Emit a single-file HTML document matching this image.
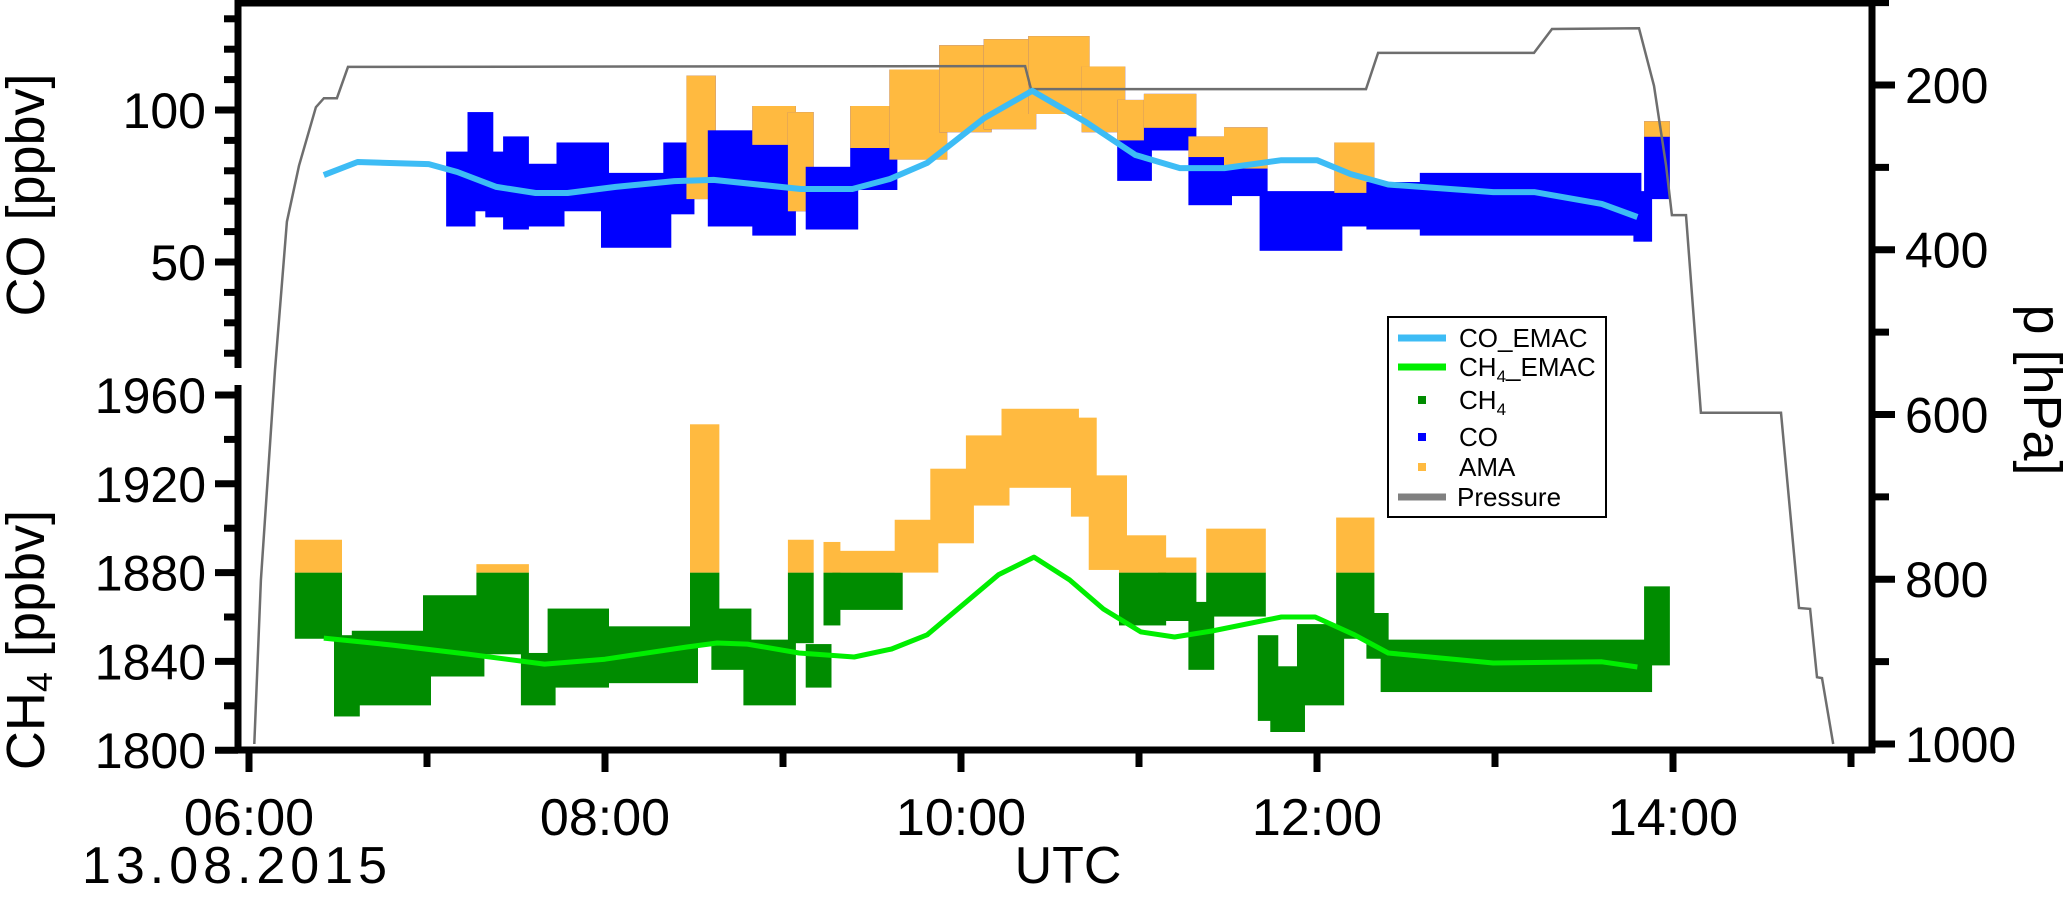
<!DOCTYPE html>
<html><head><meta charset="utf-8"><title>CO and CH4 time series</title>
<style>
html,body{margin:0;padding:0;background:#fff;}
svg{display:block;font-family:"Liberation Sans",Arial,sans-serif;}
</style></head>
<body>
<svg id="chart" xmlns="http://www.w3.org/2000/svg" width="2067" height="899" viewBox="0 0 2067 899">
<g id="scatter"></g>
<g id="lines"></g>
<g id="axes"></g>
<g id="legend">
  <rect x="1388" y="317" width="218" height="200" fill="#fff" stroke="#000" stroke-width="2"/>
  <line x1="1398" y1="338" x2="1446" y2="338" stroke="#3dbcf5" stroke-width="7"/>
  <text x="1459" y="347" font-size="26">CO_EMAC</text>
  <line x1="1398" y1="367" x2="1446" y2="367" stroke="#00ee00" stroke-width="7"/>
  <text x="1459" y="376" font-size="26">CH<tspan font-size="17" dy="6">4</tspan><tspan dy="-6">_EMAC</tspan></text>
  <rect x="1418" y="396" width="8" height="8" fill="#008c00"/>
  <text x="1459" y="409" font-size="26">CH<tspan font-size="17" dy="6">4</tspan></text>
  <rect x="1418" y="433" width="8" height="8" fill="#0000ff"/>
  <text x="1459" y="446" font-size="26">CO</text>
  <rect x="1418" y="463" width="8" height="8" fill="#ffba40"/>
  <text x="1459" y="476" font-size="26">AMA</text>
  <line x1="1398" y1="497" x2="1446" y2="497" stroke="#808080" stroke-width="7"/>
  <text x="1457" y="506" font-size="26">Pressure</text>
</g>
</svg>
<script>
// ---- data ----
const ch4T0 = [6.28,6.50,6.60,7.00,7.30,7.55,7.70,8.00,8.50,8.62,8.80,9.05,9.15,9.25,9.30,9.65,9.85,10.05,10.25,10.64,10.74,10.91,11.13,11.30,11.40,11.69,11.76,11.91,12.13,12.30,12.38,13.86];
const ch4T1 = [6.50,6.60,7.00,7.30,7.55,7.70,8.00,8.50,8.62,8.80,9.05,9.15,9.25,9.30,9.65,9.85,10.05,10.25,10.64,10.74,10.91,11.13,11.30,11.40,11.69,11.76,11.91,12.13,12.30,12.38,13.86,13.96];
const ch4Lo = [1852,1817,1822,1835,1845,1822,1830,1832,1850,1838,1822,1850,1830,1858,1865,1880,1895,1912,1920,1907,1883,1858,1860,1838,1862,1815,1810,1822,1852,1843,1828,1840];
const ch4Hi = [1893,1850,1852,1868,1882,1842,1862,1854,1945,1862,1848,1893,1846,1892,1888,1902,1925,1940,1952,1948,1922,1895,1885,1865,1898,1850,1836,1855,1903,1860,1848,1872];

const coT0 = [7.13,7.25,7.35,7.45,7.55,7.75,8.00,8.35,8.48,8.60,8.85,9.05,9.15,9.40,9.62,9.90,10.15,10.40,10.70,10.90,11.05,11.30,11.50,11.70,12.12,12.30,12.60,13.80,13.86];
const coT1 = [7.25,7.35,7.45,7.55,7.75,8.00,8.35,8.48,8.60,8.85,9.05,9.15,9.40,9.62,9.90,10.15,10.40,10.70,10.90,11.05,11.30,11.50,11.70,12.12,12.30,12.60,13.80,13.86,13.96];
const coLo = [63,68,66,62,63,68,56,67,72,63,60,68,62,75,85,94,95,100,94,78,88,70,73,55,63,62,60,58,72];
const coHi = [85,98,85,90,81,88,78,88,110,92,100,98,80,100,112,120,122,123,113,102,104,90,93,72,88,75,78,72,95];
const coAmaFrac = [0,0,0,0,0,0,0,0,1,0,0.3,1,0,0.5,1,1,1,1,1,0.5,0.6,0.3,0.6,0,0.6,0,0,0,0.2];

const coEmacT = [6.42,6.61,7.01,7.17,7.39,7.61,7.79,8.06,8.39,8.61,9.10,9.39,9.60,9.81,10.13,10.40,10.70,10.98,11.23,11.48,11.80,12.00,12.19,12.40,12.99,13.22,13.60,13.80];
const coEmacV = [78.6,82.9,82.2,79.6,74.7,72.7,72.7,74.7,76.6,77.0,74.0,74.0,77.3,82.6,97.3,106.3,96.1,85.2,80.9,80.9,83.5,83.5,78.9,75.5,73.0,73.0,69.1,64.8];

const ch4EmacT = [6.42,6.80,7.23,7.66,8.00,8.46,8.63,8.80,9.09,9.40,9.61,9.81,10.21,10.41,10.61,10.80,11.01,11.20,11.41,11.80,11.99,12.21,12.40,12.99,13.60,13.80];
const ch4EmacV = [1850.5,1847.4,1843.3,1838.8,1841,1846.5,1848.3,1847.8,1843.8,1842,1845.6,1852,1879,1887,1876.7,1863.6,1853.3,1851,1853.7,1860,1860,1852,1843.8,1839.3,1839.8,1837.5];

const presT = [6.03,6.067,6.146,6.213,6.281,6.376,6.421,6.494,6.556,10.36,10.393,12.275,12.343,13.219,13.32,13.809,13.893,13.961,13.994,14.073,14.157,14.607,14.708,14.77,14.809,14.837,14.90];
const presV = [1000,801,546,366,298,227,216,216,178,177,205,205,161,161,132,131,201,298,358,358,598,598,835,836,919,920,1000];

const xTickHours = [6,7,8,9,10,11,12,13,14,15];
const xTickLabels = ["06:00","","08:00","","10:00","","12:00","","14:00",""];
const coTicks = [130,120,110,100,90,80,70,60,50,40,30,20];
const coTickLabels = ["100","50"];
const ch4Ticks = [1960,1940,1920,1900,1880,1860,1840,1820,1800];
const ch4TickLabels = ["1960","1920","1880","1840","1800"];
const pTicks = [100,200,300,400,500,600,700,800,900,1000];
const pTickLabels = ["200","400","600","800","1000"];

// ---- scales ----
const X = t => 249 + 178*(t-6);
const Yco = v => 110 - (v-100)*3.04;
const Ych = v => 395 - (v-1960)*2.22;
const Yp = p => 85 + (p-200)*0.8237;
const NS = "http://www.w3.org/2000/svg";
function mk(tag, attrs, parent){const e=document.createElementNS(NS,tag);for(const k in attrs)e.setAttribute(k,attrs[k]);parent.appendChild(e);return e;}
const sc = document.getElementById('scatter');
const ln = document.getElementById('lines');
const ax = document.getElementById('axes');
const HALF = 4, THR = 1880;

// CH4 scatter
for(let i=0;i<ch4T0.length;i++){
  const x0=X(ch4T0[i])-HALF, x1=X(ch4T1[i])+HALF;
  const lo=ch4Lo[i], hi=ch4Hi[i];
  if(lo<THR){
    const r=mk('rect',{x:x0,y:Ych(Math.min(hi,THR))-(hi>THR?0:HALF),width:x1-x0,height:Ych(lo)+HALF-(Ych(Math.min(hi,THR))-(hi>THR?0:HALF)),fill:'#008c00'},sc);
    
    
  }
  if(hi>THR){
    const top=Ych(hi)-HALF, bot=lo>THR?Ych(lo)+HALF:Ych(THR);
    const r=mk('rect',{x:x0,y:top,width:x1-x0,height:bot-top,fill:'#ffba40'},sc);
    
    
  }
}
// CO scatter
for(let i=0;i<coT0.length;i++){
  const x0=X(coT0[i])-HALF, x1=X(coT1[i])+HALF;
  const top=Yco(coHi[i])-HALF, bot=Yco(coLo[i])+HALF;
  const r=mk('rect',{x:x0,y:top,width:x1-x0,height:bot-top,fill:'#0000ff'},sc);
  
  
  if(coAmaFrac[i]>0){
    const o=mk('rect',{x:x0,y:top,width:x1-x0,height:(bot-top)*coAmaFrac[i],fill:'#ffba40'},sc);
    
    
  }
}
// lines
function poly(ts,vs,yf){return ts.map((t,i)=>X(t).toFixed(1)+','+yf(vs[i]).toFixed(1)).join(' ');}
const pl=mk('polyline',{points:poly(presT,presV,Yp),fill:'none',stroke:'#6e6e6e','stroke-width':2.5},ln);


const cl=mk('polyline',{points:poly(coEmacT,coEmacV,Yco),fill:'none',stroke:'#3dbcf5','stroke-width':6,'stroke-linejoin':'round'},ln);


const hl=mk('polyline',{points:poly(ch4EmacT,ch4EmacV,Ych),fill:'none',stroke:'#00ee00','stroke-width':5,'stroke-linejoin':'round'},ln);



// axes frame
const frame=[[238,0,238,368,'left-axis-co'],[238,385,238,753,'left-axis-ch4'],[235,750,1875,750,'x-axis'],[1872,0,1872,753,'right-axis'],[238,3,1872,3,'top-frame']];
frame.forEach(f=>{const l=mk('line',{x1:f[0],y1:f[1],x2:f[2],y2:f[3],stroke:'#000','stroke-width':7},ax);
  
  });
function tick(x1,y1,x2,y2,name){const l=mk('line',{x1,y1,x2,y2,stroke:'#000','stroke-width':7},ax);
  
  }
function label(x,y,txt,anchor,name,size){const t=mk('text',{x,y,'text-anchor':anchor,'font-size':size||50},ax);t.textContent=txt;
  
  }
// x ticks
let xi=0;
xTickHours.forEach((h,i)=>{const x=X(h);tick(x,750,x,h%2===0?772:767,'x-tick');
  if(xTickLabels[i]) label(x,835,xTickLabels[i],'middle','x-tick-label',52);});
// CO ticks
let ci=0;
coTicks.forEach(v=>{const y=Yco(v);const major=(v%50===0);tick(major?215:224,y,238,y,'co-tick');
  if(major){label(206,y+18,coTickLabels[ci++],'end','co-tick-label');}});
// CH4 ticks
let hi2=0;
ch4Ticks.forEach(v=>{const y=Ych(v);const major=(v%40===0);tick(major?215:224,y,238,y,'ch4-tick');
  if(major){label(206,y+18,ch4TickLabels[hi2++],'end','ch4-tick-label');}});
// pressure ticks
let pi=0;
pTicks.forEach(p=>{const y=Yp(p);if(y<2)return;const major=(p%200===0);tick(1872,y,major?1895:1889,y,'pressure-tick');
  if(major){label(1905,y+18,pTickLabels[pi++],'start','pressure-tick-label');}});
</script>
<svg style="position:absolute;left:0;top:0" width="2067" height="899">
  <text transform="translate(44,195) rotate(-90)" text-anchor="middle" font-size="54" font-family="Liberation Sans, sans-serif">CO [ppbv]</text>
  <text transform="translate(44,640) rotate(-90)" text-anchor="middle" font-size="54" font-family="Liberation Sans, sans-serif">CH<tspan font-size="36" dy="8">4</tspan><tspan dy="-8"> [ppbv]</tspan></text>
  <text transform="translate(2024,390) rotate(90)" text-anchor="middle" font-size="54" font-family="Liberation Sans, sans-serif">p [hPa]</text>
  <text x="82" y="883" font-size="52" textLength="305" font-family="Liberation Sans, sans-serif">13.08.2015</text>
  <text x="1068" y="883" text-anchor="middle" font-size="52" font-family="Liberation Sans, sans-serif">UTC</text>
</svg>
</body></html>
